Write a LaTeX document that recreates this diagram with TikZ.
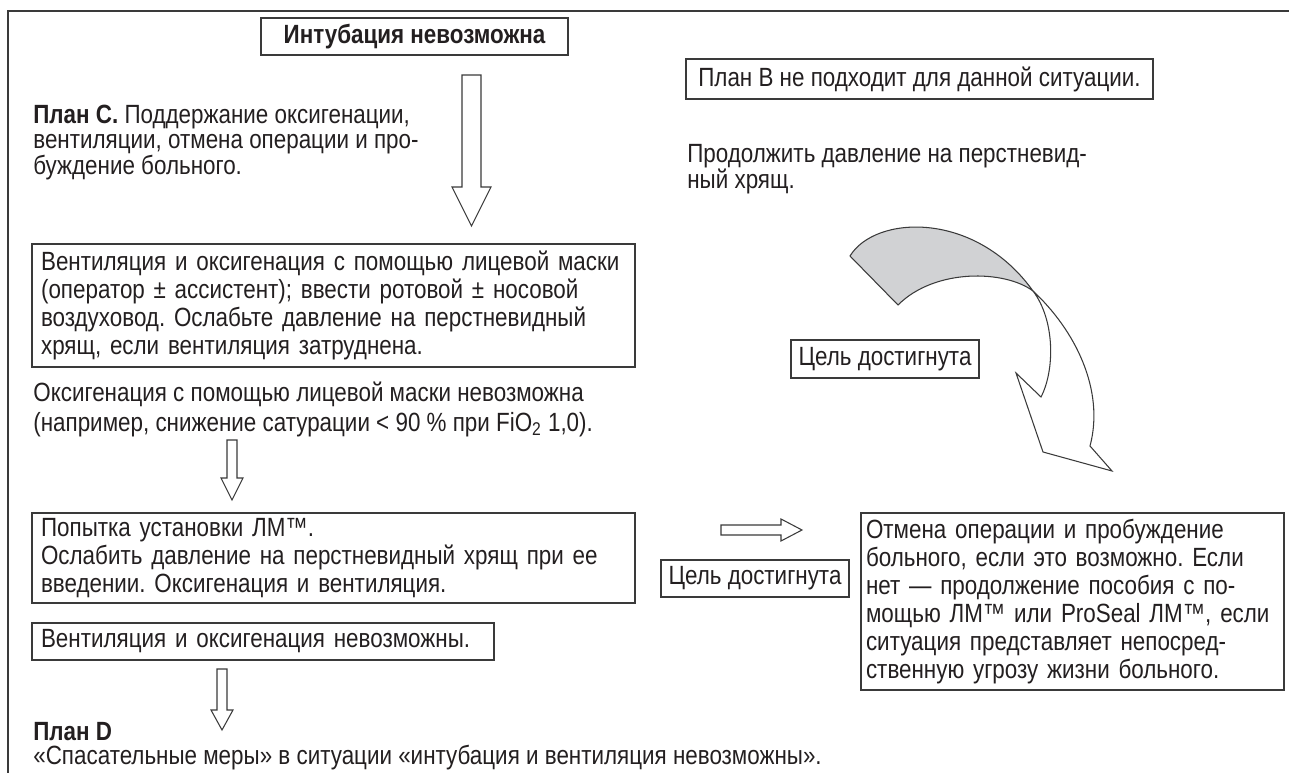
\documentclass[tikz,border=0pt]{standalone}
\usepackage{fontspec}
\setmainfont{Liberation Sans}[FakeStretch=0.85]
\usetikzlibrary{positioning}
\definecolor{inkgray}{HTML}{231F20}
\definecolor{linegray}{HTML}{3A3A3A}
\definecolor{fillgray}{HTML}{D1D2D4}
\newcommand{\bodyfont}{\fontsize{15}{15.9}\selectfont}
\frenchspacing
\tikzset{
  txt/.style={inner sep=0pt, align=left, anchor=west, text=inkgray},
  box/.style={draw=linegray, line width=0.7pt, inner sep=0pt, text=inkgray, font=\bodyfont},
  hollow/.style={draw=linegray, line width=0.6pt, fill=white, line join=miter},
}
\begin{document}
\begin{tikzpicture}[x=0.02cm, y=-0.02cm]
    \useasboundingbox (0,0) rectangle (1289,773);
    % Frame
    \draw[linegray, line width=0.9pt] (8,773) -- (8,11) -- (1289,11);
    % === TOP: start and plan C ===
    \node[box, font=\bodyfont\bfseries, minimum width=6.14cm, minimum height=0.74cm] (start) at (414.5,36.5) {Интубация невозможна};
    \draw[hollow] (462,75) -- (481,75) -- (481,187) -- (491,187) -- (471.5,226) -- (452,187) -- (462,187) -- cycle;
    \node[txt, anchor=north west, font=\fontsize{15}{14}\selectfont] (planC) at (33,105) {\textbf{План С.} Поддержание оксигенации,\\вентиляции, отмена операции и про-\\буждение больного.};
    \node[box, minimum width=9.34cm, minimum height=0.8cm] (planB) at (919.5,79) {План В не подходит для данной ситуации.};
    \node[txt, anchor=north west, font=\fontsize{15}{14.6}\selectfont] (cont) at (687,144) {Продолжить давление на перстневид-\\ный хрящ.};
    % === MIDDLE: face mask ===
    \node[box, inner xsep=0.18cm, text width=11.7cm, align=left, minimum height=2.46cm] (mask) at (333.5,305.5) {\mbox{Вентиляция и оксигенация с помощью лицевой маски}\\\mbox{(оператор ± ассистент); ввести ротовой ± носовой}\\\mbox{воздуховод. Ослабьте давление на перстневидный}\\\mbox{хрящ, если вентиляция затруднена.}};
    \node[txt, anchor=north west, font=\fontsize{15}{17}\selectfont] (oxy) at (33,382) {Оксигенация с помощью лицевой маски невозможна\\(например, снижение сатурации < 90 \% при FiO\textsubscript{2} 1,0).};
    \draw[hollow] (227,440) -- (237,440) -- (237,478) -- (243,478) -- (232,500) -- (221,478) -- (227,478) -- cycle;
    % curved arrow back to wake-up
    \filldraw[fill=fillgray, draw=linegray, line width=0.6pt] (850,256) .. controls (875,215) and (975,210) .. (1033,291) .. controls (1005,270) and (935,268) .. (898,305) -- cycle;
    \draw[hollow] (1033,291) .. controls (1055,320) and (1055,370) .. (1041,397) -- (1016,373) -- (1043,452) -- (1112,471) -- (1090,446) .. controls (1105,390) and (1075,330) .. (1033,291);
    \node[box, minimum width=3.76cm, minimum height=0.76cm] (goal1) at (885,359) {Цель достигнута};
    % === BOTTOM: LMA and plan D ===
    \node[box, inner xsep=0.18cm, text width=11.7cm, align=left, minimum height=1.8cm] (lma) at (333.5,558) {\mbox{Попытка установки ЛМ™.}\\\mbox{Ослабить давление на перстневидный хрящ при ее}\\\mbox{введении. Оксигенация и вентиляция.}};
    \node[box, inner xsep=0.18cm, text width=8.88cm, align=left, minimum height=0.74cm] (fail) at (263,641.5) {\mbox{Вентиляция и оксигенация невозможны.}};
    \draw[hollow] (217,669) -- (227,669) -- (227,710) -- (233,710) -- (222,730) -- (211,710) -- (217,710) -- cycle;
    \node[txt, font=\bodyfont\bfseries] (planD) at (33,732) {План D};
    \node[txt, font=\bodyfont] (rescue) at (33,758) {«Спасательные меры» в ситуации «интубация и вентиляция невозможны».};
    \draw[hollow] (721,525) -- (781,525) -- (781,519) -- (802,530) -- (781,541) -- (781,535) -- (721,535) -- cycle;
    \node[box, minimum width=3.76cm, minimum height=0.74cm] (goal2) at (755,578.5) {Цель достигнута};
    \node[box, inner xsep=0.1cm, text width=8.26cm, align=left, minimum height=3.54cm] (wake) at (1072.5,601.5) {\mbox{Отмена операции и пробуждение}\\\mbox{больного, если это возможно. Если}\\\mbox{нет — продолжение пособия с по-}\\\mbox{мощью ЛМ™ или ProSeal ЛМ™, если}\\\mbox{ситуация представляет непосред-}\\\mbox{ственную угрозу жизни больного.}};
\end{tikzpicture}
\end{document}
